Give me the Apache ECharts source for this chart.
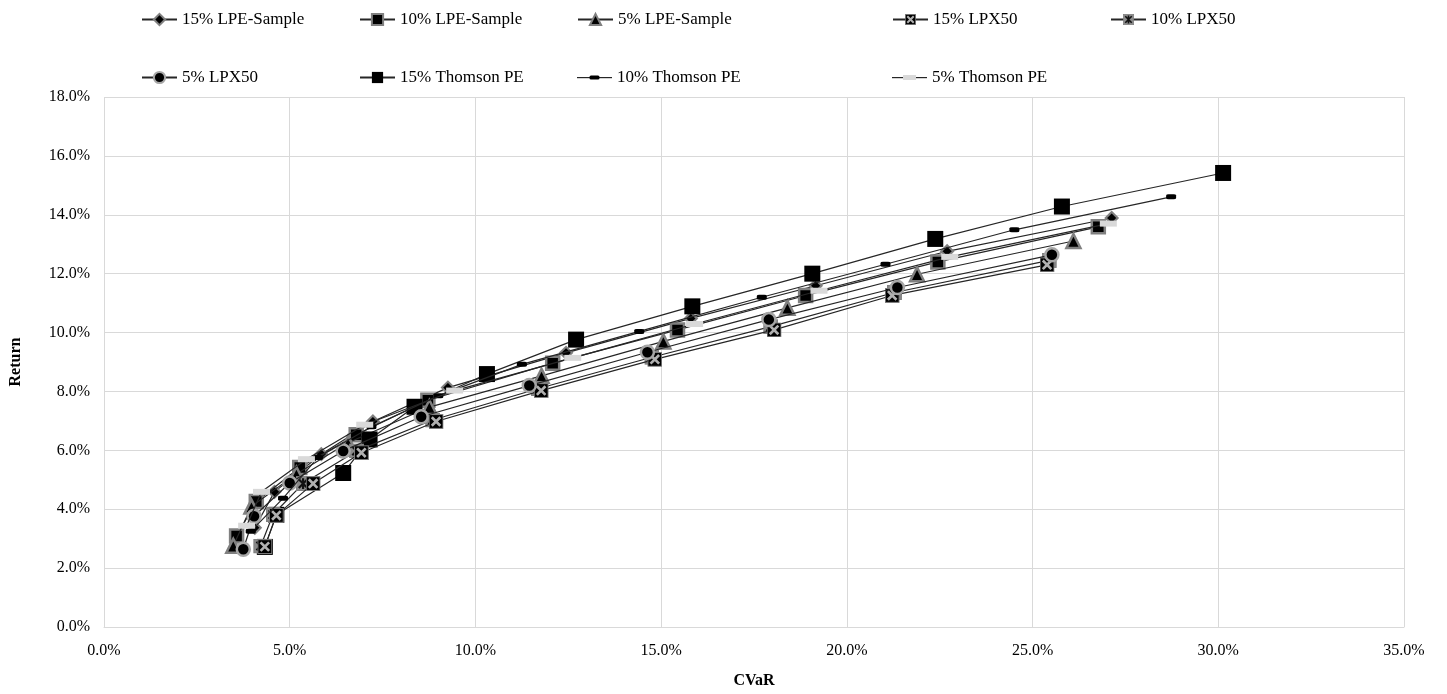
<!DOCTYPE html>
<html>
<head>
<meta charset="utf-8">
<script src="https://cdn.jsdelivr.net/npm/echarts@6/dist/echarts.min.js"></script>
<style>
html,body{margin:0;padding:0;background:#fff;overflow:hidden;}
#chart{width:1447px;height:694px;}
</style>
</head>
<body>
<div id="chart"></div>
<script>
// Data: [CVaR %, Return %]
var seriesNames = ["15% LPE-Sample","10% LPE-Sample","5% LPE-Sample","15% LPX50","10% LPX50","5% LPX50","15% Thomson PE","10% Thomson PE","5% Thomson PE"];

var lpe15 = [[4.06,3.37],[4.59,4.59],[5.85,5.87],[7.24,6.98],[9.26,8.13],[12.44,9.31],[15.80,10.48],[19.16,11.59],[22.70,12.76],[27.13,13.89]];
var lpe10 = [[3.57,3.09],[4.10,4.26],[5.27,5.42],[6.79,6.53],[8.72,7.70],[12.08,8.96],[15.44,10.09],[18.89,11.26],[22.45,12.40],[26.77,13.59]];
var lpe5  = [[3.48,2.76],[3.97,4.09],[5.18,5.20],[6.57,6.26],[8.76,7.47],[11.78,8.53],[15.06,9.70],[18.40,10.84],[21.89,11.98],[26.10,13.11]];
var lpx15 = [[4.33,2.73],[4.64,3.79],[5.63,4.87],[6.93,5.92],[8.94,6.98],[11.77,8.03],[14.83,9.09],[18.04,10.09],[21.22,11.26],[25.39,12.30]];
var lpx10 = [[4.22,2.75],[4.55,3.82],[5.36,4.87],[6.80,5.98],[8.85,7.03],[11.70,8.10],[14.75,9.16],[17.95,10.20],[21.28,11.36],[25.45,12.45]];
var lpx5  = [[3.75,2.64],[4.04,3.76],[5.00,4.89],[6.44,5.98],[8.54,7.14],[11.45,8.20],[14.63,9.33],[17.90,10.44],[21.36,11.53],[25.52,12.64]];
var tpe15 = [[4.33,2.72],[4.64,3.81],[6.44,5.23],[7.15,6.37],[8.36,7.48],[10.31,8.59],[12.71,9.76],[15.84,10.89],[19.07,12.00],[22.38,13.18],[25.79,14.28],[30.13,15.42]];
var tpe10 = [[3.95,3.25],[4.82,4.37],[5.76,5.76],[7.20,6.80],[9.00,7.85],[11.25,8.92],[14.41,10.04],[17.71,11.20],[21.04,12.32],[24.51,13.49],[28.73,14.61]];
var tpe5  = [[3.84,3.44],[4.24,4.59],[5.45,5.70],[7.02,6.87],[9.44,8.03],[12.62,9.14],[15.90,10.29],[19.25,11.42],[22.77,12.57],[27.04,13.70]];

var xTicks = [0,5,10,15,20,25,30,35];
var yTicks = [0,2,4,6,8,10,12,14,16,18];

function svgSym(svg){ return 'image://data:image/svg+xml;charset=utf-8,' + encodeURIComponent(svg); }
var symX15 = svgSym("<svg xmlns='http://www.w3.org/2000/svg' width='28' height='28'><rect x='1' y='1' width='26' height='26' fill='#000' stroke='#7f7f7f' stroke-width='2'/><path d='M6 6L22 22M22 6L6 22' stroke='#b0b0b0' stroke-width='5'/></svg>");
var symX10 = svgSym("<svg xmlns='http://www.w3.org/2000/svg' width='28' height='28'><rect x='1' y='1' width='26' height='26' fill='#8a8a8a' stroke='#7f7f7f' stroke-width='2'/><path d='M6 6L22 22M22 6L6 22M14 4L14 24' stroke='#111' stroke-width='4'/></svg>");
var legDash10 = svgSym("<svg xmlns='http://www.w3.org/2000/svg' width='70' height='28'><rect x='0' y='13' width='70' height='2.4' fill='#262626'/><rect x='25' y='10' width='20' height='8' rx='3' fill='#000'/></svg>");
var legDash5 = svgSym("<svg xmlns='http://www.w3.org/2000/svg' width='70' height='28'><rect x='0' y='13' width='70' height='2.4' fill='#262626'/><rect x='22' y='9' width='26' height='10' fill='#d9d9d9'/></svg>");

var dataSets = [lpe15, lpe10, lpe5, lpx15, lpx10, lpx5, tpe15, tpe10, tpe5];
var styles = [
  {symbol:'diamond', size:12, color:'#000', border:'#808080', bw:2, z:3},
  {symbol:'rect', size:13, color:'#000', border:'#808080', bw:2.5, z:4},
  {symbol:'triangle', size:14, color:'#000', border:'#808080', bw:2.5, z:5},
  {symbol:symX15, size:15, z:9},
  {symbol:symX10, size:15, z:8},
  {symbol:'circle', size:13, color:'#000', border:'#a6a6a6', bw:2.5, z:10},
  {symbol:'rect', size:16, color:'#000', border:'#000', bw:0, z:6},
  {symbol:'roundRect', size:[10,5], color:'#000', border:'#000', bw:0, z:11},
  {symbol:'rect', size:[17,6], color:'#d9d9d9', border:'#d9d9d9', bw:0, z:12}
];

var series = dataSets.map(function(d,i){
  var s = styles[i];
  return {
    name: seriesNames[i], type:'line', data:d, symbol:s.symbol, symbolSize:s.size,
    showAllSymbol:true, animation:false,
    lineStyle:{color:'#262626', width:1.2},
    itemStyle:{color: s.color || '#000', borderColor: s.border || '#000', borderWidth: s.bw || 0},
    z: s.z
  };
});

var legendPos = [[141,11],[359,11],[577,11],[892,11],[1110,11],[141,69],[359,69],[577,69],[892,69]];
var legends = seriesNames.map(function(n,i){
  var item = {name:n};
  if (i === 7) item.icon = legDash10;
  if (i === 8) item.icon = legDash5;
  return {data:[item], left:legendPos[i][0], top:legendPos[i][1], padding:0, itemWidth:35, itemHeight:14, itemGap:0,
    textStyle:{fontFamily:'Liberation Serif', fontSize:17, color:'#000'}};
});

var chart = echarts.init(document.getElementById('chart'), null, {width:1447, height:694});
chart.setOption({
  backgroundColor:'#fff',
  animation:false,
  legend: legends,
  grid:{left:102, width:1302, top:97, height:540, containLabel:false},
  xAxis:{type:'value', min:xTicks[0], max:xTicks[xTicks.length-1], interval:5,
    name:'CVaR', nameLocation:'middle', nameGap:46,
    nameTextStyle:{fontFamily:'Liberation Serif', fontSize:16, fontWeight:'bold', color:'#000'},
    axisLine:{show:true, lineStyle:{color:'#d9d9d9'}}, axisTick:{show:false},
    splitLine:{show:true, lineStyle:{color:'#d9d9d9', width:1}},
    axisLabel:{fontFamily:'Liberation Serif', fontSize:16, color:'#000', margin:16, formatter:function(v){return v.toFixed(1)+'%';}}
  },
  yAxis:{type:'value', min:yTicks[0], max:yTicks[yTicks.length-1], interval:2,
    name:'Return', nameLocation:'middle', nameGap:80, nameRotate:90,
    nameTextStyle:{fontFamily:'Liberation Serif', fontSize:16, fontWeight:'bold', color:'#000'},
    axisLine:{show:false}, axisTick:{show:false},
    splitLine:{show:true, lineStyle:{color:'#d9d9d9', width:1}},
    axisLabel:{fontFamily:'Liberation Serif', fontSize:16, color:'#000', margin:14, formatter:function(v){return v.toFixed(1)+'%';}}
  },
  series: series
});
</script>
</body>
</html>
